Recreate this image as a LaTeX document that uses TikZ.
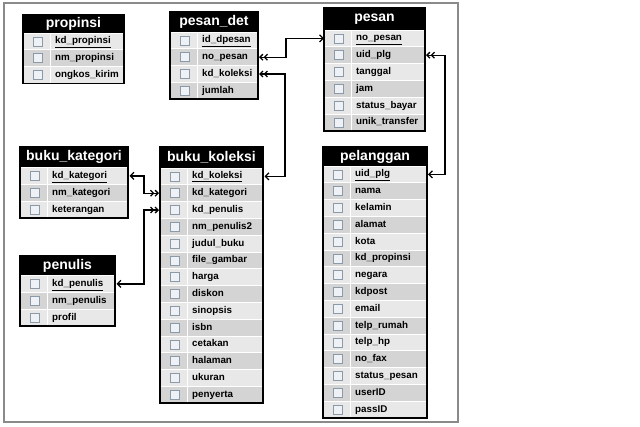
\documentclass[tikz,border=0pt]{standalone}
\usepackage{fontspec}
\setmainfont{Liberation Sans}
\usetikzlibrary{arrows.meta}
\definecolor{rowA}{HTML}{E8E8E8}
\definecolor{rowB}{HTML}{D4D4D4}
\definecolor{chkline}{HTML}{8C9AA8}
\definecolor{chkfill}{HTML}{EEF1F5}
\definecolor{framegray}{HTML}{8A8A8A}
\tikzset{
  titlebox/.style={fill=black, text=white, inner sep=0pt, outer sep=0pt,
    font=\bfseries\fontsize{14}{14}\selectfont},
  rowbox/.style={inner sep=0pt, outer sep=0pt, minimum height=16.8pt},
  chk/.style={draw=chkline, fill=chkfill, line width=0.6pt, minimum size=9pt, inner sep=0pt},
  fieldtext/.style={inner sep=0pt, anchor=west, text height=7pt, text depth=2pt,
    font=\bfseries\fontsize{9.8}{10}\selectfont},
  tabborder/.style={draw=black, line width=1.5pt},
  sep/.style={white, line width=0.7pt},
  rel/.style={line width=1.3pt, black},
  manyone/.style={{Straight Barb[length=3pt,width=6pt]Straight Barb[length=3pt,width=6pt]}-{Straight Barb[length=3.5pt,width=7pt]}},
}
% #1 name, #2 title, #3 x, #4 y, #5 width, #6 title height, #7 rows, #8 fields
\newcommand\erdtab[8]{%
  \node[titlebox, minimum width=#5pt, minimum height=#6pt, anchor=north west] (#1) at (#3,#4) {#2};
  \foreach \f [count=\i] in {#8} {
    \pgfmathsetmacro\yy{#4+#6+(\i-1)*16.8}
    \ifodd\i \def\rf{rowA}\else\def\rf{rowB}\fi
    \node[rowbox, fill=\rf, minimum width=#5pt, anchor=north west] (#1-\i) at (#3,\yy) {};
    \draw[sep] (#1-\i.north west) -- (#1-\i.north east);
    \draw[sep] ([xshift=27pt]#1-\i.north west) -- ([xshift=27pt]#1-\i.south west);
    \node[chk] at ([xshift=14.5pt]#1-\i.west) {};
    \node[fieldtext] at ([xshift=32pt]#1-\i.west) {\f};
  }
  \draw[tabborder] (#1.north west) rectangle (#1-#7.south east);
}
\begin{document}
\begin{tikzpicture}[x=1pt,y=-1pt]
\useasboundingbox (0,0) rectangle (640,426);
\draw[framegray, line width=1.2pt] (4,3) rectangle (458,422);

\erdtab{prop}{propinsi}{23}{15}{101}{18}{3}{\underline{kd\_propinsi},nm\_propinsi,ongkos\_kirim}
\erdtab{pd}{pesan\_det}{170}{12}{88}{20}{4}{\underline{id\_dpesan},no\_pesan,kd\_koleksi,jumlah}
\erdtab{pesan}{pesan}{324}{8}{101}{22}{6}{\underline{no\_pesan},uid\_plg,tanggal,jam,status\_bayar,unik\_transfer}
\erdtab{bkat}{buku\_kategori}{20}{147}{108}{20.5}{3}{\underline{kd\_kategori},nm\_kategori,keterangan}
\erdtab{bk}{buku\_koleksi}{160}{147}{103}{21}{14}{\underline{kd\_koleksi},kd\_kategori,kd\_penulis,nm\_penulis2,judul\_buku,file\_gambar,harga,diskon,sinopsis,isbn,cetakan,halaman,ukuran,penyerta}
\erdtab{pel}{pelanggan}{323}{147}{104}{19}{15}{\underline{uid\_plg},nama,kelamin,alamat,kota,kd\_propinsi,negara,kdpost,email,telp\_rumah,telp\_hp,no\_fax,status\_pesan,userID,passID}
\erdtab{pen}{penulis}{20}{256}{95}{19.5}{3}{\underline{kd\_penulis},nm\_penulis,profil}

% relations
\draw[rel, manyone] ([xshift=1pt]pd-2.east) -- ++(27,0) |- (pesan-1.west);
\draw[rel, manyone] ([xshift=1pt]pd-3.east) -- ++(26,0) |- ([xshift=1.5pt]bk-1.east);
\draw[rel, manyone] ([xshift=1pt]pesan-2.east) -- ++(19,0) |- ([xshift=1pt]pel-1.east);
\draw[rel, manyone] ([xshift=-1pt]bk-2.west) -- ++(-15,0) |- ([xshift=1.5pt]bkat-1.east);
\draw[rel, manyone] ([xshift=-1pt]bk-3.west) -- ++(-15,0) |- ([xshift=1.5pt]pen-1.east);
\end{tikzpicture}
\end{document}
